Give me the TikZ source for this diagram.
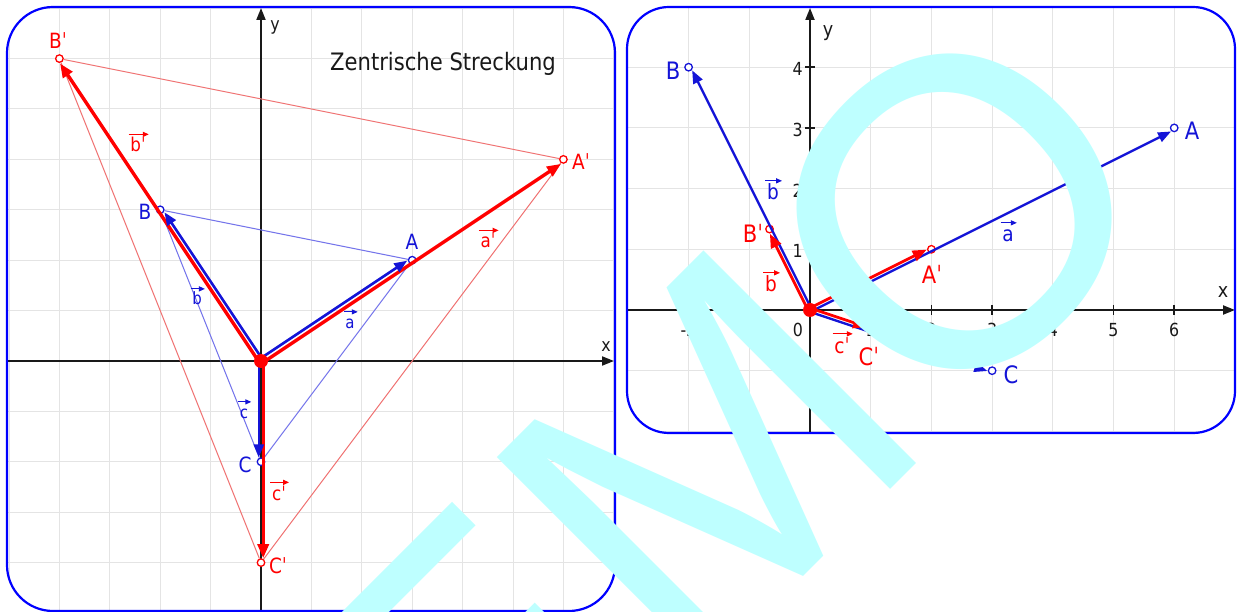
\documentclass[tikz,border=0pt]{standalone}
\usepackage{fontspec}
\usetikzlibrary{arrows.meta}
\newfontfamily\lab[FakeStretch=0.88]{DejaVu Sans}
\newfontfamily\wmfont{Liberation Sans}
\definecolor{vblue}{RGB}{20,20,215}
\definecolor{vred}{RGB}{255,0,0}
\definecolor{pblue}{RGB}{0,0,255}
\definecolor{gridc}{RGB}{228,228,228}
\definecolor{axc}{RGB}{25,25,25}
\definecolor{tblue}{RGB}{115,115,235}
\definecolor{tred}{RGB}{240,115,115}
\definecolor{wm}{RGB}{190,255,255}
\newcommand\fs[1]{\fontsize{#1}{#1}\selectfont}
\newcommand\pr{ˈ}
\newcommand\vlab[5]{%
  \node[text=#3, font=\lab\fs{#4}, inner sep=0pt, anchor=base] (#1) at #2 {\vphantom{b}#5};
  \draw[#3, line width=1.2pt, -{Triangle[length=6pt,width=5pt]}] ([xshift=-1.5pt,yshift=3pt]#1.north west) -- ([xshift=3pt,yshift=3pt]#1.north east);
}
\begin{document}
\begin{tikzpicture}[x=1pt,y=-1pt,
  gridline/.style={draw=gridc, line width=1pt},
  panel/.style={draw=pblue, line width=2.2pt},
  axis/.style={draw=axc, line width=2pt, -{Triangle[length=12pt,width=9pt]}},
  tick/.style={draw=axc, line width=1.5pt},
  pt/.style={circle, fill=white, line width=1.3pt, minimum size=7.5pt, inner sep=0pt},
  bpt/.style={pt, draw=vblue},
  rpt/.style={pt, draw=vred},
  bvec/.style={draw=vblue, line width=2.6pt, -{Triangle[length=13pt,width=10pt]}},
  rvec/.style={draw=vred, line width=3.4pt, -{Triangle[length=14pt,width=11pt]}},
  bthin/.style={draw=tblue, line width=1pt},
  rthin/.style={draw=tred, line width=1pt},
  plab/.style={inner sep=0pt, font=\lab\fs{21}},
  qlab/.style={inner sep=0pt, font=\lab\fs{24}},
  tlab/.style={inner sep=0pt, font=\lab\fs{18}, text=axc},
  axlab/.style={inner sep=0pt, font=\lab\fs{18}, text=axc, anchor=base}]
\useasboundingbox (0,0) rectangle (1237,612);
\clip (0,0) rectangle (1237,612);
\fill[white] (0,0) rectangle (1237,612);

% ================= left panel =================
\begin{scope}
  \clip[rounded corners=46pt] (7,7) rectangle (615,611);
  \foreach \k in {-5,...,7} {
    \draw[gridline] ({261+50.4*\k},0) -- ({261+50.4*\k},620);
    \draw[gridline] (0,{361-50.4*\k}) -- (620,{361-50.4*\k});
  }
\end{scope}
\coordinate (LXa) at (8,361); \coordinate (LXb) at (614,361);
\coordinate (LYa) at (261,611); \coordinate (LYb) at (261,8);
\draw[axis] (LXa) -- (LXb);
\draw[axis] (LYa) -- (LYb);
\node[axlab] (LXl) at (606,352) {x};
\node[axlab] (LYl) at (275,31) {y};
\draw[panel, rounded corners=46pt] (7,7) rectangle (615,611);
\node[font=\lab\fs{24}, text=axc, anchor=base, inner sep=0pt] (title) at (443,70.5) {Zentrische Streckung};

\begin{scope}[shift={(261,361)}, x=50.4pt, y=50.4pt]
  \coordinate (LO) at (0,0);
  \node[bpt] (LA) at (3,2) {};
  \node[bpt] (LB) at (-2,3) {};
  \node[bpt] (LC) at (0,-2) {};
  \node[rpt] (LAp) at (6,4) {};
  \node[rpt] (LBp) at (-4,6) {};
  \node[rpt] (LCp) at (0,-4) {};
  \draw[rthin] (LAp) -- (LBp) (LBp) -- (LCp) (LCp) -- (LAp);
  \draw[bthin] (LA) -- (LB) (LB) -- (LC) (LC) -- (LA);
  \draw[rvec, transform canvas={shift={(1.3pt,-2pt)}}] (LO) -- (LAp);
  \draw[rvec, transform canvas={shift={(-1.8pt,-1.2pt)}}] (LO) -- (LBp);
  \draw[rvec, transform canvas={shift={(2.2pt,0pt)}}] (LO) -- (LCp);
  \draw[bvec, transform canvas={shift={(-1.3pt,2pt)}}] (LO) -- (LA);
  \draw[bvec, transform canvas={shift={(1.8pt,1.2pt)}}] (LO) -- (LB);
  \draw[bvec, transform canvas={shift={(-2.2pt,0pt)}}] (LO) -- (LC);
  \fill[vred] (LO) circle[radius=7pt];
\end{scope}

\node[plab, text=vred] (lBp) at (58,41) {B\pr};
\node[plab, text=vblue] (lB) at (145,212) {B};
\node[plab, text=vblue] (lA) at (412,242) {A};
\node[plab, text=vred] (lAp) at (581,162) {A\pr};
\node[plab, text=vblue] (lC) at (245,465) {C};
\node[plab, text=vred] (lCp) at (278,566) {C\pr};
\vlab{vlb}{(197,305)}{vblue}{17}{b}
\vlab{vla}{(350,328)}{vblue}{17}{a}
\vlab{vlc}{(244,418)}{vblue}{17}{c}
\vlab{vlbp}{(138,152)}{vred}{19}{b\pr}
\vlab{vlap}{(488,248)}{vred}{19}{a\pr}
\vlab{vlcp}{(279,500)}{vred}{19}{c\pr}

% ================= right panel =================
\begin{scope}
  \clip[rounded corners=42pt] (627,7) rectangle (1235,433);
  \foreach \k in {-3,...,7} {
    \draw[gridline] ({810+60.7*\k},0) -- ({810+60.7*\k},440);
  }
  \foreach \k in {-2,...,5} {
    \draw[gridline] (620,{310-60.7*\k}) -- (1240,{310-60.7*\k});
  }
\end{scope}
\coordinate (RXa) at (628,310); \coordinate (RXb) at (1235,310);
\coordinate (RYa) at (810,433); \coordinate (RYb) at (810,8);
\draw[axis] (RXa) -- (RXb);
\draw[axis] (RYa) -- (RYb);
\foreach \k in {-2,-1,1,2,3,4,5,6} {
  \draw[tick] ({810+60.7*\k},305) -- ({810+60.7*\k},315);
  \node[tlab] (tx\k) at ({810+60.7*\k},330) {\k};
}
\foreach \k in {-1,1,2,3,4} {
  \draw[tick] (805,{310-60.7*\k}) -- (815,{310-60.7*\k});
  \node[tlab, anchor=east] (ty\k) at (803,{312-60.7*\k}) {\k};
}
\node[tlab] (t0) at (798,330) {0};
\node[axlab, font=\lab\fs{20}] (RXl) at (1223,298) {x};
\node[axlab, font=\lab\fs{20}] (RYl) at (828,37) {y};
\draw[panel, rounded corners=42pt] (627,7) rectangle (1235,433);

\begin{scope}[shift={(810,310)}, x=60.7pt, y=60.7pt]
  \coordinate (RO) at (0,0);
  \node[bpt] (RA) at (6,3) {};
  \node[bpt] (RB) at (-2,4) {};
  \node[bpt] (RC) at (3,-1) {};
  \node[rpt] (RAp) at (2,1) {};
  \node[rpt] (RBp) at (-2/3,4/3) {};
  \node[rpt] (RCp) at (1,-1/3) {};
  \draw[bvec, line width=2.4pt, transform canvas={shift={(0.8pt,-1.6pt)}}] (RO) -- (RA);
  \draw[bvec, line width=2.4pt, transform canvas={shift={(1.6pt,0.8pt)}}] (RO) -- (RB);
  \draw[bvec, line width=2.4pt, transform canvas={shift={(-0.6pt,-1.7pt)}}] (RO) -- (RC);
  \draw[rvec, line width=2.8pt, transform canvas={shift={(-0.8pt,1.6pt)}}] (RO) -- (RAp);
  \draw[rvec, line width=2.8pt, transform canvas={shift={(-1.6pt,-0.8pt)}}] (RO) -- (RBp);
  \draw[rvec, line width=2.8pt, transform canvas={shift={(0.6pt,1.7pt)}}] (RO) -- (RCp);
  \fill[vred] (RO) circle[radius=7pt];
\end{scope}

\node[qlab, text=vblue] (rB) at (673,71) {B};
\node[qlab, text=vblue] (rA) at (1192,131) {A};
\node[qlab, text=vblue] (rC) at (1011,375) {C};
\node[qlab, text=vred] (rBp) at (753,233) {B\pr};
\node[qlab, text=vred] (rAp) at (932,274) {A\pr};
\node[qlab, text=vred] (rCp) at (869,357) {C\pr};
\vlab{wvb}{(773,200)}{vblue}{21}{b}
\vlab{wva}{(1008,242)}{vblue}{21}{a}
\vlab{wvbr}{(771,292)}{vred}{21}{b}
\vlab{wvcp}{(842,353)}{vred}{21}{c\pr}

% ================= watermark =================
\node[font=\wmfont\fs{437}, text=wm, rotate=45, anchor=base west, inner sep=0pt] (wmark) at (255,1125) {DEMO};
\end{tikzpicture}
\end{document}
